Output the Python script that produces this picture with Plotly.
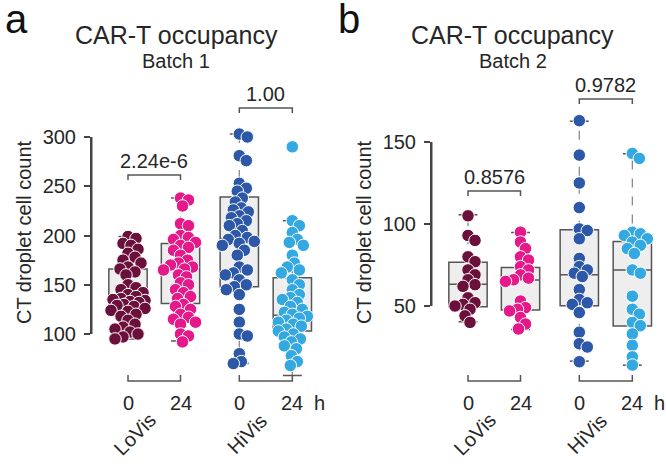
import math
import plotly.graph_objects as go

# ---------------- data ----------------
groups = ["LoVis", "HiVis"]
timepoints = ["0", "24"]
colors = ["#6b0f3b", "#e5198a", "#2d57a7", "#34a9e1"]

# Batch 1 (panel a) cell counts per group: LoVis 0h, LoVis 24h, HiVis 0h, HiVis 24h
a_lo0 = [199, 197, 192, 190, 186, 182, 178, 175, 172, 168, 166, 163, 160, 150, 147, 145, 142, 140,
         138, 136, 135, 134, 133, 132, 130, 129, 128, 126, 124, 123, 120, 118, 114, 110, 107, 105,
         102, 100, 97, 95]
a_lo24 = [238, 236, 230, 212, 210, 200, 198, 196, 193, 190, 188, 185, 180, 175, 172, 170, 168, 166,
          165, 160, 158, 152, 150, 145, 142, 138, 136, 130, 128, 125, 120, 117, 115, 112, 110, 100,
          98, 92]
a_hi0 = [303, 300, 281, 276, 253, 248, 245, 238, 234, 228, 226, 224, 220, 218, 215, 212, 210, 205,
         200, 198, 196, 194, 192, 190, 185, 180, 168, 165, 162, 160, 155, 150, 148, 145, 140, 125,
         112, 100, 98, 80, 72, 70]
a_hi24 = [290, 215, 210, 203, 196, 193, 190, 180, 172, 168, 165, 162, 155, 150, 145, 140, 137, 135,
          132, 128, 125, 122, 120, 118, 116, 114, 112, 110, 108, 105, 103, 100, 97, 95, 92, 88, 85,
          78, 72, 68]
a_q1 = [123, 131, 148, 103]
a_med = [135, 166, 197, 119]
a_q3 = [166, 192, 239, 157]
a_lo = [95, 93, 70, 58]
a_hi = [199, 238, 303, 215]
a_pvals = ["2.24e-6", "1.00"]

# Batch 2 (panel b)
b_lo0 = [105, 93, 90, 80, 77, 72, 69, 66, 63, 62, 55, 52, 51, 50, 48, 44, 40]
b_lo24 = [95, 89, 85, 80, 78, 74, 72, 69, 67, 66, 65, 53, 49, 48, 47, 43, 39, 36]
b_hi0 = [163, 142, 125, 110, 97, 96, 91, 79, 74, 72, 70, 68, 60, 54, 52, 51, 46, 34, 27, 25, 16]
b_hi24 = [143, 140, 95, 94, 93, 91, 89, 87, 85, 82, 72, 70, 56, 48, 45, 40, 38, 33, 26, 19, 14]
b_q1 = [49.6, 47.6, 50.2, 37.8]
b_med = [63.2, 65.9, 69, 72]
b_q3 = [76.7, 73.4, 96.5, 89.3]
b_lo = [40.4, 35.7, 16.4, 13.9]
b_hi = [105.6, 94.8, 162.7, 142.8]
b_pvals = ["0.8576", "0.9782"]

a_ticks = [100, 150, 200, 250, 300]
b_ticks = [50, 100, 150]

# ---------------- layout constants ----------------
W, H = 666, 467
FONT = "Liberation Sans, Arial, sans-serif"
TXT = "#262626"
LINE = "#555555"
AXC = "#444444"
POS = [1, 2, 3.12, 4.13]
XR = [0.3143, 4.695]
PPX = 52.5

panels = {
    "a": dict(xl=92, xr=322, v1=100, p1=334, v2=300, p2=137, yr=[45, 335], ax="x", ay="y",
              ayl="y3", data=[a_lo0, a_lo24, a_hi0, a_hi24], q1=a_q1, med=a_med, q3=a_q3,
              lo=a_lo, hi=a_hi, pv=a_pvals, ticks=a_ticks, pbr=[175, 108],
              title="Batch 1", letter="a"),
    "b": dict(xl=432, xr=662, v1=50, p1=306, v2=150, p2=142, yr=[0, 180], ax="x2", ay="y2",
              ayl="y4", data=[b_lo0, b_lo24, b_hi0, b_hi24], q1=b_q1, med=b_med, q3=b_q3,
              lo=b_lo, hi=b_hi, pv=b_pvals, ticks=b_ticks, pbr=[191, 99],
              title="Batch 2", letter="b"),
}


def ppu(P):
    return (P["p1"] - P["p2"]) / (P["v2"] - P["v1"])


def py_of(P, v):
    return P["p1"] - (v - P["v1"]) * ppu(P)


def v_of(P, py):
    return P["v1"] + (P["p1"] - py) / ppu(P)


def swarm(vals, ppy, d=8.0, maxoff=17):
    idx = sorted(range(len(vals)), key=lambda i: -vals[i])
    cands = [0]
    for k in range(1, maxoff + 1):
        cands += [k, -k]
    placed, offs = [], [0.0] * len(vals)
    for i in idx:
        y = vals[i] * ppy
        best, bc, bestd = None, 0, -1
        for c in cands:
            md = min([math.hypot(c - px, y - pyy) for px, pyy in placed], default=1e9)
            if md >= d:
                best = c
                break
            if md > bestd:
                bestd, bc = md, c
        if best is None:
            best = bc
        placed.append((best, y))
        offs[i] = best / PPX
    return offs


def txt(x, y, text, size=20, **kw):
    d = dict(x=x, y=y, xref="paper", yref="paper", text=text, showarrow=False,
             xanchor="center", yanchor="middle",
             font=dict(family=FONT, size=size, color=TXT))
    d.update(kw)
    return d


def axname(a):
    return a[0] + "axis" + a[1:]


fig = go.Figure()
shapes, annos = [], []
layout = {}

for key, P in panels.items():
    ax, ay, ayl = P["ax"], P["ay"], P["ayl"]
    # boxes
    for g in range(4):
        fig.add_trace(go.Box(x=[POS[g]], q1=[P["q1"][g]], median=[P["med"][g]], q3=[P["q3"][g]],
                             lowerfence=[P["q1"][g]], upperfence=[P["q3"][g]], width=0.73,
                             fillcolor="#eeeeef", line=dict(color=LINE, width=1.5),
                             boxpoints=False, xaxis=ax, yaxis=ay, hoverinfo="skip"))
        # dashed whiskers
        for a0, a1 in [(P["q3"][g], P["hi"][g]), (P["q1"][g], P["lo"][g])]:
            fig.add_trace(go.Scatter(x=[POS[g], POS[g]], y=[a0, a1], mode="lines",
                                     line=dict(color="#8a8a8a", width=1.3, dash="dash"),
                                     xaxis=ax, yaxis=ay, hoverinfo="skip"))
            fig.add_trace(go.Scatter(x=[POS[g] - 0.18, POS[g] + 0.18], y=[a1, a1], mode="lines",
                                     line=dict(color=LINE, width=1.5),
                                     xaxis=ax, yaxis=ay, hoverinfo="skip"))
    # points
    for g in range(4):
        vals = P["data"][g]
        offs = swarm(vals, ppu(P))
        fig.add_trace(go.Scatter(x=[POS[g] + o for o in offs], y=vals, mode="markers",
                                 marker=dict(size=12.5, color=colors[g],
                                             line=dict(color="white", width=1)),
                                 xaxis=ax, yaxis=ay, cliponaxis=False))
    # empty trace that carries the R-style y axis (spanning only the tick range)
    fig.add_trace(go.Scatter(x=[None], y=[None], xaxis=ax, yaxis=ayl, hoverinfo="skip"))
    # axes
    ydom = [(H - py_of(P, P["yr"][0])) / H, (H - py_of(P, P["yr"][1])) / H]
    ydom_l = [(H - py_of(P, P["ticks"][0])) / H, (H - py_of(P, P["ticks"][-1])) / H]
    layout[axname(ax)] = dict(domain=[P["xl"] / W, P["xr"] / W], range=XR, anchor=ay,
                              showgrid=False, zeroline=False, showline=False, automargin=False,
                              showticklabels=False, ticks="")
    layout[axname(ay)] = dict(domain=ydom, range=P["yr"], anchor=ax, showgrid=False,
                              zeroline=False, showline=False, showticklabels=False, ticks="",
                              automargin=False)
    layout[axname(ayl)] = dict(domain=ydom_l, range=[P["ticks"][0], P["ticks"][-1]], anchor=ax,
                               showgrid=False, zeroline=False, showline=True, linecolor=AXC,
                               linewidth=2, tickvals=P["ticks"], ticks="outside", ticklen=6,
                               tickwidth=1.5, tickcolor=AXC, ticklabelstandoff=4,
                               automargin=False, layer="above traces",
                               tickfont=dict(family=FONT, size=20, color=TXT))
    # extra vertical axis line as a shape in paper space (axis spine)
    shapes.append(dict(type="line", xref="paper", yref="paper", layer="above",
                       x0=(P["xl"] - 0.5) / W, x1=(P["xl"] - 0.5) / W,
                       y0=ydom_l[0], y1=ydom_l[1], line=dict(color=AXC, width=2)))
    # brackets for groups (bottom) and p-values (top)
    for j in range(2):
        x1, x2 = POS[2 * j], POS[2 * j + 1]
        yb, yl = v_of(P, 381), v_of(P, 375)
        shapes.append(dict(type="path", xref=ax, yref=ay,
                           path=f"M{x1},{yl} L{x1},{yb} L{x2},{yb} L{x2},{yl}",
                           line=dict(color=LINE, width=1.5)))
        yt, yl2 = v_of(P, P["pbr"][j]), v_of(P, P["pbr"][j] + 5)
        shapes.append(dict(type="path", xref=ax, yref=ay,
                           path=f"M{x1},{yl2} L{x1},{yt} L{x2},{yt} L{x2},{yl2}",
                           line=dict(color=LINE, width=1.5)))
        annos.append(dict(x=(x1 + x2) / 2, y=yt, xref=ax, yref=ay, text=P["pv"][j],
                          showarrow=False, xanchor="center", yanchor="bottom", yshift=1,
                          font=dict(family=FONT, size=20, color=TXT)))
        # tick labels 0 / 24
        for k, xx in enumerate([x1, x2]):
            annos.append(dict(x=xx, y=(H - 403) / H, xref=ax, yref="paper", text=timepoints[k],
                              showarrow=False, xanchor="center", yanchor="middle",
                              font=dict(family=FONT, size=20, color=TXT)))
    off = P["xl"] - 92
    annos.append(txt((319 + off) / W, (H - 403) / H, "h"))
    for j, cx in enumerate([135, 247]):
        annos.append(txt((cx + off) / W, (H - 434) / H, groups[j], textangle=-45))
    annos.append(txt((24 + off) / W, (H - 232) / H, "CT droplet cell count", textangle=-90))
    tcx = 176 if key == "a" else 512.5
    annos.append(txt(tcx / W, (H - 35) / H, "CAR-T occupancy", size=25))
    annos.append(txt(tcx / W, (H - 61) / H, P["title"], size=20))
    lx = 3 if key == "a" else 336
    annos.append(txt(lx / W, (H - 19) / H, P["letter"], size=40, xanchor="left",
                     font=dict(family=FONT, size=40, color="#111")))

fig.update_layout(width=W, height=H, margin=dict(l=0, r=0, t=0, b=0),
                  paper_bgcolor="white", plot_bgcolor="rgba(0,0,0,0)", showlegend=False,
                  shapes=shapes, annotations=annos, **layout)
fig.write_html("out.html", config={"displayModeBar": False},
               post_script="document.body.style.margin='0';")
